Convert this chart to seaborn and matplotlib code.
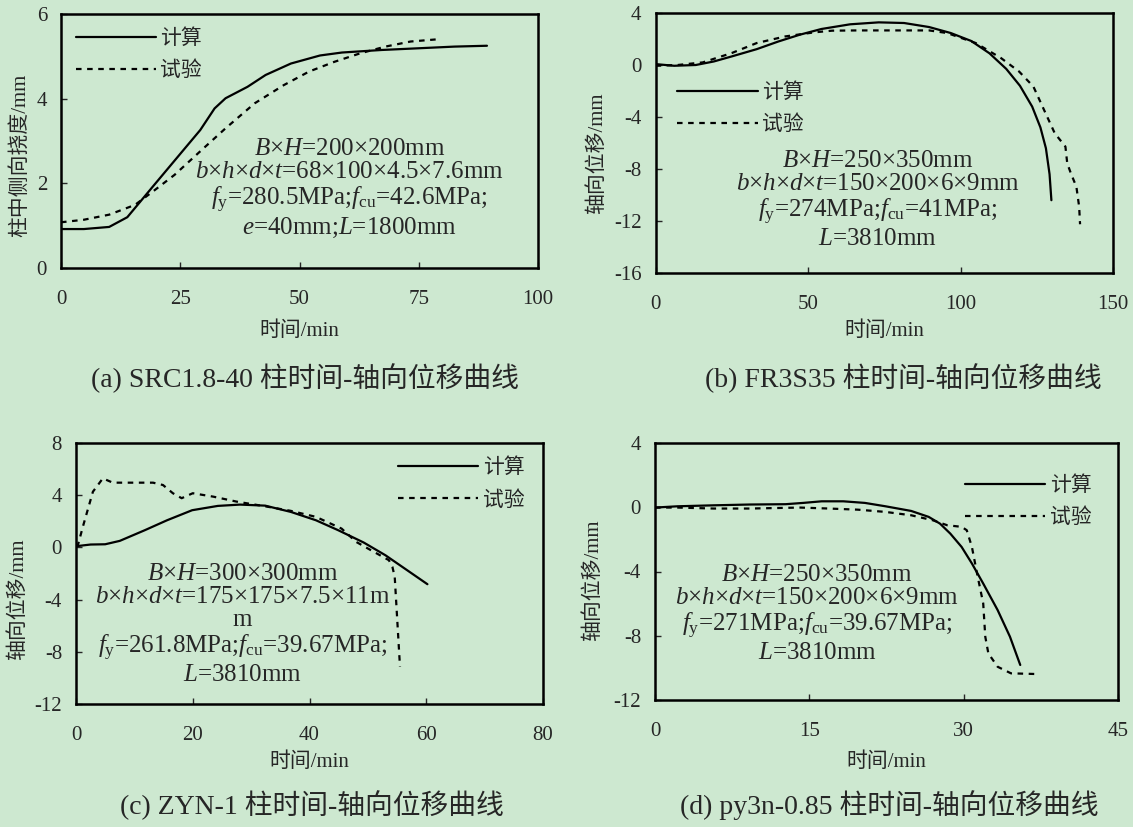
import numpy as np
import pandas as pd
import matplotlib
matplotlib.use("Agg")
import matplotlib.pyplot as plt
import seaborn as sns

# ---- data: time (min) vs displacement (mm) ----
a_calc_t = [0, 4.8, 10.1, 13.9, 19.3, 25.4, 29.2, 32.2, 34.5, 39.1, 42.9, 48.2, 54.3, 58.9, 67.2, 74.9, 82.5, 89.3]
a_calc_d = [0.92, 0.92, 0.97, 1.20, 1.93, 2.75, 3.26, 3.77, 4.01, 4.28, 4.56, 4.83, 5.02, 5.09, 5.15, 5.19, 5.23, 5.25]
a_test_t = [0, 4.8, 10.1, 15.5, 19.3, 23.8, 29.9, 34.5, 40.6, 46.7, 52.0, 57.3, 62.7, 68.0, 73.3, 78.7]
a_test_d = [1.08, 1.14, 1.26, 1.49, 1.81, 2.20, 2.83, 3.30, 3.89, 4.32, 4.64, 4.87, 5.07, 5.23, 5.35, 5.40]

b_calc_t = [0, 6.1, 13.2, 19.1, 25.0, 33.2, 40.3, 47.3, 54.4, 63.8, 73.2, 81.5, 89.7, 96.8, 103.5, 109.5, 115.0, 119.5, 123.5, 126.2, 128.0, 129.2, 129.8]
b_calc_d = [0.07, -0.06, 0.0, 0.27, 0.66, 1.22, 1.81, 2.33, 2.77, 3.13, 3.28, 3.23, 2.92, 2.46, 1.85, 0.9, -0.3, -1.6, -3.2, -4.8, -6.4, -8.4, -10.4]
b_test_t = [0, 7.3, 15.5, 25.0, 33.2, 42.6, 52.0, 57.9, 66.2, 77.9, 89.7, 95.6, 105.0, 113.3, 119.2, 123.9, 127.4, 130.9, 134.4, 135.0, 136.2, 138.0, 138.9, 139.2]
b_test_d = [-0.06, 0.0, 0.2, 0.92, 1.69, 2.20, 2.51, 2.64, 2.66, 2.66, 2.66, 2.46, 1.69, 0.53, -0.50, -1.66, -3.46, -5.25, -6.28, -7.57, -8.34, -9.37, -10.9, -12.25]

c_calc_t = [0, 2.5, 5.0, 7.5, 11.8, 15.6, 19.9, 24.3, 28.1, 32.4, 36.8, 41.1, 44.9, 49.3, 53.0, 56.7, 60.2]
c_calc_d = [0.09, 0.22, 0.24, 0.5, 1.32, 2.08, 2.85, 3.18, 3.28, 3.20, 2.72, 2.08, 1.32, 0.37, -0.60, -1.74, -2.82]
c_test_t = [0, 0.33, 1.18, 2.9, 4.6, 6.3, 13.2, 14.9, 16.6, 18.1, 20.0, 23.5, 27.5, 32.4, 36.8, 41.1, 45.5, 48.0, 50.5, 53.6, 54.2, 54.6, 54.9, 55.2, 55.5]
c_test_d = [0.1, 0.18, 1.59, 4.27, 5.29, 4.96, 4.96, 4.78, 4.15, 3.77, 4.15, 3.89, 3.51, 3.15, 2.8, 2.34, 1.44, 0.42, -0.21, -0.98, -1.49, -2.26, -4.55, -6.85, -9.14]

d_calc_t = [0, 2.2, 5.7, 9.2, 12.7, 14.4, 16.2, 18.3, 20.4, 22.4, 24.9, 26.6, 27.7, 28.7, 29.8, 30.8, 31.9, 33.3, 34.5, 35.5]
d_calc_d = [-0.02, 0.06, 0.12, 0.17, 0.19, 0.27, 0.37, 0.37, 0.27, 0.06, -0.23, -0.60, -1.02, -1.64, -2.47, -3.50, -4.75, -6.40, -8.06, -9.82]
d_test_t = [0, 2.2, 5.7, 9.2, 14.1, 16.9, 19.7, 22.4, 24.9, 27.0, 28.4, 29.8, 30.3, 30.8, 31.3, 31.9, 32.1, 32.4, 33.3, 34.6, 36.9]
d_test_d = [-0.02, -0.02, -0.08, -0.08, -0.02, -0.08, -0.15, -0.29, -0.50, -0.81, -1.12, -1.22, -1.43, -2.47, -4.12, -5.99, -8.06, -9.10, -9.93, -10.34, -10.38]

series_names = ["计算", "试验"]

# axis limits and ticks
a_xticks, a_yticks = [0, 25, 50, 75, 100], [0, 2, 4, 6]
b_xticks, b_yticks = [0, 50, 100, 150], [-16, -12, -8, -4, 0, 4]
c_xticks, c_yticks = [0, 20, 40, 60, 80], [-12, -8, -4, 0, 4, 8]
d_xticks, d_yticks = [0, 15, 30, 45], [-12, -8, -4, 0, 4]

ylabels = ["柱中侧向挠度/mm", "轴向位移/mm", "轴向位移/mm", "轴向位移/mm"]
xlabel = "时间/min"
captions = ["(a) SRC1.8-40 柱时间-轴向位移曲线", "(b) FR3S35 柱时间-轴向位移曲线",
            "(c) ZYN-1 柱时间-轴向位移曲线", "(d) py3n-0.85 柱时间-轴向位移曲线"]
notes = [
    "$B$×$H$=200×200mm\n$b$×$h$×$d$×$t$=68×100×4.5×7.6mm\n"
    "$f_{\\mathrm{y}}$=280.5MPa;$f_{\\mathrm{cu}}$=42.6MPa;\n$e$=40mm;$L$=1800mm",
    "$B$×$H$=250×350mm\n$b$×$h$×$d$×$t$=150×200×6×9mm\n"
    "$f_{\\mathrm{y}}$=274MPa;$f_{\\mathrm{cu}}$=41MPa;\n$L$=3810mm",
    "$B$×$H$=300×300mm\n$b$×$h$×$d$×$t$=175×175×7.5×11m\nm\n"
    "$f_{\\mathrm{y}}$=261.8MPa;$f_{\\mathrm{cu}}$=39.67MPa;\n$L$=3810mm",
    "$B$×$H$=250×350mm\n$b$×$h$×$d$×$t$=150×200×6×9mm\n"
    "$f_{\\mathrm{y}}$=271MPa;$f_{\\mathrm{cu}}$=39.67MPa;\n$L$=3810mm",
]

BG = "#cde8d0"
sns.set_theme(style="ticks", rc={
    "figure.facecolor": BG, "axes.facecolor": BG, "savefig.facecolor": BG,
    "axes.edgecolor": "black", "axes.linewidth": 1.8,
    "xtick.direction": "in", "ytick.direction": "in",
    "xtick.major.size": 4, "ytick.major.size": 4,
    "xtick.major.width": 1.0, "ytick.major.width": 1.0,
    "xtick.major.pad": 16, "ytick.major.pad": 10,
    "xtick.labelsize": 15, "ytick.labelsize": 15,
    "axes.unicode_minus": False,
})
plt.rcParams["font.family"] = ["Liberation Serif", "Noto Sans CJK SC"]
plt.rcParams["mathtext.fontset"] = "custom"
plt.rcParams["mathtext.rm"] = "Liberation Serif"
plt.rcParams["mathtext.it"] = "Liberation Serif:italic"

W, H = 1133, 827
fig = plt.figure(figsize=(W / 100, H / 100), dpi=100)


def px_axes(left, right, top, bottom):
    return fig.add_axes([left / W, 1 - bottom / H, (right - left) / W, (bottom - top) / H])


panels = [
    dict(box=(61, 538, 14, 268), calc=(a_calc_t, a_calc_d), test=(a_test_t, a_test_d),
         xt=a_xticks, yt=a_yticks, note_xy=(60.4, 1.87), leg=(0.031, 0.94),
         ylab=(-0.086, 0.445), xlab=-0.248, cap=(305, 378)),
    dict(box=(655.5, 1113, 13, 273), calc=(b_calc_t, b_calc_d), test=(b_test_t, b_test_d),
         xt=b_xticks, yt=b_yticks, note_xy=(72.9, -10.4), leg=(0.048, 0.73),
         ylab=(-0.128, 0.46), xlab=-0.223, cap=(903, 378)),
    dict(box=(76, 543, 443, 704), calc=(c_calc_t, c_calc_d), test=(c_test_t, c_test_d),
         xt=c_xticks, yt=c_yticks, note_xy=(28.5, -5.92), leg=(0.69, 0.94),
         ylab=(-0.124, 0.402), xlab=-0.222, cap=(312, 805)),
    dict(box=(655, 1118, 443, 700), calc=(d_calc_t, d_calc_d), test=(d_test_t, d_test_d),
         xt=d_xticks, yt=d_yticks, note_xy=(15.75, -6.66), leg=(0.67, 0.87),
         ylab=(-0.134, 0.467), xlab=-0.241, cap=(889, 805)),
]

for i, p in enumerate(panels):
    ax = px_axes(*p["box"])
    df = pd.concat([
        pd.DataFrame({"t": p["calc"][0], "d": p["calc"][1], "s": series_names[0]}),
        pd.DataFrame({"t": p["test"][0], "d": p["test"][1], "s": series_names[1]}),
    ], ignore_index=True)
    sns.lineplot(data=df, x="t", y="d", hue="s", style="s", ax=ax, sort=False,
                 estimator=None, palette=["black", "black"],
                 dashes={series_names[0]: "", series_names[1]: (2.5, 2.5)},
                 linewidth=1.6)
    ax.set_xlim(p["xt"][0], p["xt"][-1])
    ax.set_ylim(p["yt"][0], p["yt"][-1])
    ax.set_xticks(p["xt"])
    ax.set_yticks(p["yt"])
    ax.tick_params(top=False, right=False)
    for sp in ax.spines.values():
        sp.set_visible(True)

    ax.set_xlabel(xlabel, fontsize=15, va="center")
    ax.xaxis.set_label_coords(0.5, p["xlab"])
    ax.set_ylabel(ylabels[i], fontsize=15, va="center")
    ax.yaxis.set_label_coords(*p["ylab"])

    ax.legend(title=None, loc="upper left", bbox_to_anchor=p["leg"], frameon=False,
              fontsize=15, handlelength=3.85, handletextpad=0.2, labelspacing=0.6,
              borderpad=0, borderaxespad=0)

    ax.text(*p["note_xy"], notes[i], ha="center", va="center", multialignment="center",
            fontsize=18, linespacing=1.07)

    fig.text(p["cap"][0] / W, 1 - p["cap"][1] / H, captions[i], ha="center", va="center",
             fontsize=20)

fig.savefig("out.png", dpi=100, facecolor=BG)
